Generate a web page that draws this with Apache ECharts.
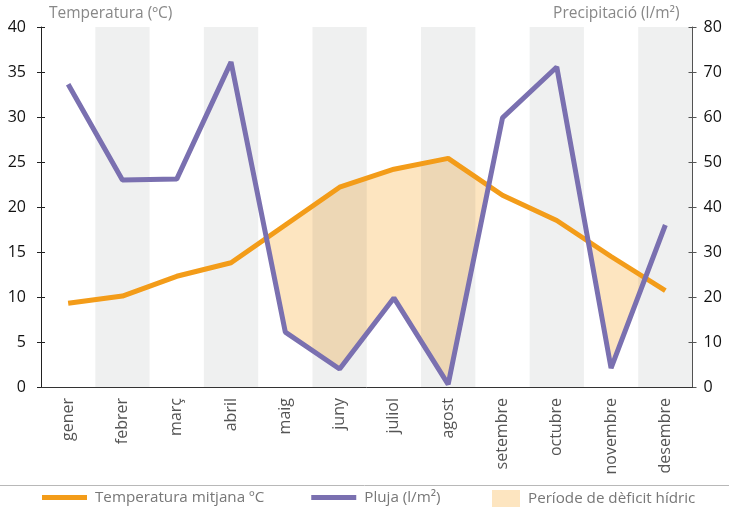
<!DOCTYPE html>
<html>
<head>
<meta charset="utf-8">
<script src="https://cdn.jsdelivr.net/npm/echarts@6/dist/echarts.min.js"></script>
<style>html,body{margin:0;padding:0;background:#fff;}#c{width:729px;height:510px;}</style>
</head>
<body>
<div id="c"></div>
<script>
var months = ['gener','febrer','març','abril','maig','juny','juliol','agost','setembre','octubre','novembre','desembre'];
var temperature = [9.3, 10.1, 12.3, 13.8, 18.0, 22.2, 24.2, 25.4, 21.3, 18.5, 14.5, 10.7];
var rainfall = [67.3, 46.0, 46.2, 72.2, 12.2, 4.0, 19.8, 0.6, 59.8, 71.1, 4.2, 36.0];
var tempTicks = [0, 40, 5];
var rainTicks = [0, 80, 10];

var FONT = 'Open Sans';
var ORANGE = '#f39c19';
var PURPLE = '#7a70b0';
var FILL = '#fde5c0';

// deficit polygons: where temperature (scaled x2) exceeds rainfall
function buildPolys() {
  var n = months.length, polys = [], cur = null;
  for (var i = 0; i < n; i++) {
    var t2 = temperature[i] * 2, d = t2 - rainfall[i];
    if (d > 0) {
      if (!cur) cur = {top: [], bot: []};
      cur.top.push([i, t2]); cur.bot.push([i, rainfall[i]]);
    }
    if (i < n - 1) {
      var t2n = temperature[i + 1] * 2, dn = t2n - rainfall[i + 1];
      if ((d > 0) !== (dn > 0)) {
        var f = d / (d - dn), x = i + f, y = t2 + f * (t2n - t2);
        if (!cur) { cur = {top: [[x, y]], bot: []}; }
        else { cur.top.push([x, y]); polys.push(cur.top.concat(cur.bot.reverse())); cur = null; }
      }
    }
  }
  if (cur) polys.push(cur.top.concat(cur.bot.reverse()));
  return polys;
}
var polys = buildPolys();

var chart = echarts.init(document.getElementById('c'));
var grid = {left: 41, right: 36.5, top: 27, bottom: 123};
var legendText = {fontFamily: FONT, fontSize: 15.2, color: '#777', padding: [0, 0, 0, 3]};
chart.setOption({
  animation: false,
  textStyle: {fontFamily: FONT},
  grid: grid,
  legend: [{
    left: 42, top: 490, padding: 0, icon: 'rect', itemWidth: 45, itemHeight: 5, itemGap: 47,
    textStyle: legendText,
    data: ['Temperatura mitjana ºC', 'Pluja (l/m²)'], selectedMode: false
  }, {
    left: 492, top: 490, padding: 0, icon: 'rect', itemWidth: 28, itemHeight: 17,
    textStyle: legendText,
    data: [{name: 'Període de dèficit hídric', itemStyle: {color: FILL}}], selectedMode: false
  }],
  graphic: [{type: 'line', shape: {x1: 0, y1: 485.5, x2: 729, y2: 485.5}, style: {stroke: '#b8b8b8', lineWidth: 1}}],
  xAxis: [{
    type: 'category', data: months, boundaryGap: true, z: 1.5,
    axisLine: {lineStyle: {color: '#333', width: 1}},
    axisTick: {length: 8, lineStyle: {color: '#333'}},
    axisLabel: {rotate: 90, color: '#555', fontSize: 16, fontFamily: FONT, margin: 11},
    splitArea: {show: true, areaStyle: {color: ['rgba(255,255,255,0)', 'rgba(30,45,45,0.07)']}},
    splitLine: {show: false}
  }, {
    type: 'value', min: -0.5, max: 11.5, show: false
  }],
  yAxis: [{
    type: 'value', min: tempTicks[0], max: tempTicks[1], interval: tempTicks[2], position: 'left',
    name: 'Temperatura (ºC)', nameLocation: 'end', nameGap: 5,
    nameTextStyle: {align: 'left', color: '#888', fontSize: 15.5, fontFamily: FONT, padding: [0, 0, 0, 8]},
    axisLine: {show: true, onZero: false, lineStyle: {color: '#222'}},
    axisTick: {show: true, length: 4, lineStyle: {color: '#222'}},
    axisLabel: {color: '#111', fontSize: 16, fontFamily: FONT, margin: 15},
    splitLine: {show: false}
  }, {
    type: 'value', min: rainTicks[0], max: rainTicks[1], interval: rainTicks[2], position: 'right',
    name: 'Precipitació (l/m²)', nameLocation: 'end', nameGap: 5,
    nameTextStyle: {align: 'right', color: '#888', fontSize: 15.5, fontFamily: FONT, padding: [0, 13, 0, 0]},
    axisLine: {show: true, onZero: false, lineStyle: {color: '#555'}},
    axisTick: {show: true, length: 4, lineStyle: {color: '#555'}},
    axisLabel: {color: '#111', fontSize: 16, fontFamily: FONT, margin: 11},
    splitLine: {show: false}
  }, {
    type: 'value', min: tempTicks[0], max: tempTicks[1], interval: tempTicks[2], position: 'left',
    axisLine: {show: false, onZero: false}, axisLabel: {show: false}, splitLine: {show: false},
    axisTick: {show: true, inside: true, length: 4, lineStyle: {color: '#222'}}
  }, {
    type: 'value', min: rainTicks[0], max: rainTicks[1], interval: rainTicks[2], position: 'right',
    axisLine: {show: false, onZero: false}, axisLabel: {show: false}, splitLine: {show: false},
    axisTick: {show: true, inside: true, length: 4, lineStyle: {color: '#555'}}
  }],
  series: [{
    name: 'Període de dèficit hídric',
    type: 'custom', xAxisIndex: 1, yAxisIndex: 1, z: 1,
    itemStyle: {color: FILL},
    data: polys.map(function (p, i) { return i; }),
    renderItem: function (params, api) {
      var p = polys[api.value(0)];
      var pts = p.map(function (q) { return api.coord(q); });
      return {type: 'polygon', shape: {points: pts}, style: {fill: FILL}};
    }
  }, {
    name: 'Temperatura mitjana ºC', type: 'line', yAxisIndex: 0, z: 3,
    data: temperature, symbol: 'none',
    lineStyle: {color: ORANGE, width: 5}, itemStyle: {color: ORANGE}
  }, {
    name: 'Pluja (l/m²)', type: 'line', yAxisIndex: 1, z: 4,
    data: rainfall, symbol: 'none',
    lineStyle: {color: PURPLE, width: 5}, itemStyle: {color: PURPLE}
  }]
});
</script>
</body>
</html>
